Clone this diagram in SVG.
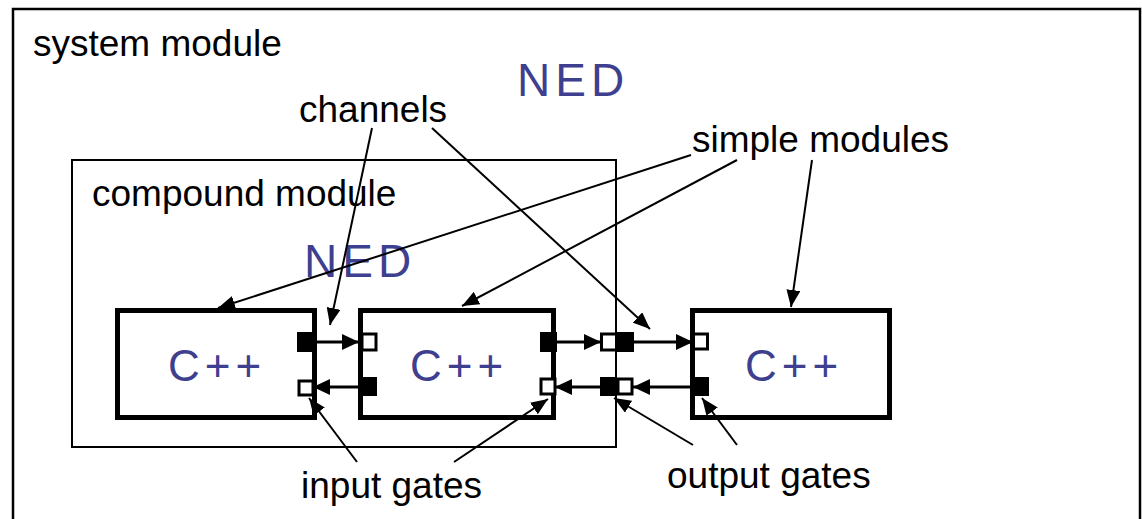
<svg xmlns="http://www.w3.org/2000/svg" width="1142" height="519" viewBox="0 0 1142 519">
<defs>
<style>
.lbl{font-family:"Liberation Sans",Arial,sans-serif;font-size:37px;fill:#000}
.ned{font-family:"Liberation Sans",Arial,sans-serif;font-size:46px;fill:#3f3f8f;letter-spacing:5px}
.cpp{font-family:"Liberation Sans",Arial,sans-serif;font-size:44px;fill:#3f3f8f;letter-spacing:5px}
.mod{fill:#fff;stroke:#000;stroke-width:5}
.gf{fill:#000;stroke:#000;stroke-width:1}
.gh{fill:#fff;stroke:#000;stroke-width:3}
.conn{stroke:#000;stroke-width:3;fill:none;marker-end:url(#big)}
.ptr{stroke:#000;stroke-width:2;fill:none;marker-end:url(#small)}
</style>
<marker id="big" markerUnits="userSpaceOnUse" markerWidth="18" markerHeight="16" refX="17" refY="8" orient="auto">
<path d="M0,0 L17,8 L0,16 z" fill="#000"/>
</marker>
<marker id="small" markerUnits="userSpaceOnUse" markerWidth="18" markerHeight="14" refX="17" refY="7" orient="auto">
<path d="M0,0 L17,7 L0,14 z" fill="#000"/>
</marker>
</defs>
<rect x="0" y="0" width="1142" height="519" fill="#fff"/>
<g id="system-module">
<rect x="13" y="9" width="1127" height="530" fill="none" stroke="#000" stroke-width="2.5"/>
<text class="lbl" x="33" y="56">system module</text>
<text class="ned" x="517" y="96">NED</text>
</g>
<g id="compound-module">
<rect x="72" y="160" width="544" height="287" fill="none" stroke="#000" stroke-width="2"/>
<text class="lbl" x="92" y="206">compound module</text>
<text class="ned" x="304" y="277">NED</text>
</g>
<g id="simple1">
<rect class="mod" x="117.5" y="310.5" width="197" height="107"/>
<text class="cpp" x="168" y="381">C++</text>
<rect class="gf" x="297.5" y="332.5" width="16" height="19"/>
<rect class="gh" x="299" y="381" width="14" height="14"/>
</g>
<g id="simple2">
<rect class="mod" x="360.5" y="310.5" width="193" height="107"/>
<text class="cpp" x="410" y="381">C++</text>
<rect class="gh" x="362" y="334" width="14" height="16"/>
<rect class="gf" x="358.5" y="377.5" width="18" height="18"/>
<rect class="gf" x="540.5" y="332.5" width="16" height="19"/>
<rect class="gh" x="541" y="379" width="14" height="15"/>
</g>
<g id="simple3">
<rect class="mod" x="692.5" y="310.5" width="197" height="107"/>
<text class="cpp" x="745" y="381">C++</text>
<rect class="gh" x="693.5" y="334" width="14" height="15"/>
<rect class="gf" x="692.5" y="377.5" width="16" height="18"/>
</g>
<g id="compound-gates">
<rect class="gh" x="601.5" y="334" width="15" height="16"/>
<rect class="gf" x="617.5" y="332.5" width="16" height="19"/>
<rect class="gf" x="600.5" y="377.5" width="16" height="18"/>
<rect class="gh" x="618" y="379" width="14" height="15"/>
</g>
<g id="connectors">
<line class="conn" x1="314" y1="342" x2="359" y2="342"/>
<line class="conn" x1="358" y1="387" x2="313" y2="387"/>
<line class="conn" x1="557" y1="342" x2="601" y2="342"/>
<line class="conn" x1="600" y1="387" x2="555" y2="387"/>
<line class="conn" x1="634" y1="342" x2="693" y2="342"/>
<line class="conn" x1="692" y1="387" x2="633" y2="387"/>
</g>
<g id="callouts">
<text class="lbl" x="299" y="122">channels</text>
<text class="lbl" x="692" y="152">simple modules</text>
<text class="lbl" x="301" y="498">input gates</text>
<text class="lbl" x="667" y="488">output gates</text>
<line class="ptr" x1="691" y1="155" x2="218" y2="308"/>
<line class="ptr" x1="737" y1="160" x2="462" y2="306"/>
<line class="ptr" x1="812" y1="160" x2="791" y2="307"/>
<line class="ptr" x1="372" y1="128" x2="330" y2="325"/>
<line class="ptr" x1="432" y1="128" x2="650" y2="329"/>
<line class="ptr" x1="357" y1="462" x2="309" y2="398"/>
<line class="ptr" x1="454" y1="462" x2="548" y2="399"/>
<line class="ptr" x1="693" y1="445" x2="614" y2="398"/>
<line class="ptr" x1="737" y1="445" x2="702" y2="398"/>
</g>
</svg>
